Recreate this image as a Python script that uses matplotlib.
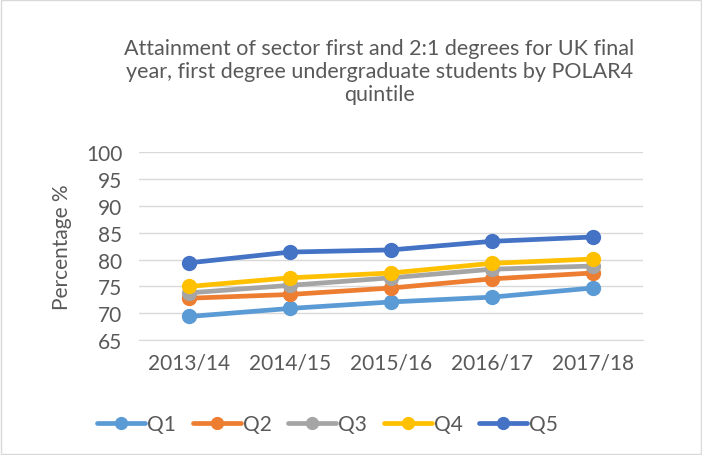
import matplotlib.pyplot as plt
from matplotlib.patches import Rectangle

years = ['2013/14', '2014/15', '2015/16', '2016/17', '2017/18']
q1 = [69.4, 70.9, 72.1, 73.0, 74.7]
q2 = [72.8, 73.5, 74.7, 76.4, 77.5]
q3 = [73.8, 75.2, 76.6, 78.2, 78.8]
q4 = [75.0, 76.6, 77.5, 79.3, 80.1]
q5 = [79.4, 81.4, 81.8, 83.4, 84.2]
series = [('Q1', q1), ('Q2', q2), ('Q3', q3), ('Q4', q4), ('Q5', q5)]
colors = ['#5b9bd5', '#ed7d31', '#a5a5a5', '#ffc000', '#4472c4']

txt = '#595959'
plt.rcParams['font.family'] = ['Lato', 'DejaVu Sans']

fig = plt.figure(figsize=(7.02, 4.56), dpi=100)
ax = fig.add_axes([0.198, 0.252, 0.718, 0.412])

x = range(len(years))
for (name, vals), c in zip(series, colors):
    ax.plot(x, vals, color=c, lw=3.4, marker='o', ms=10, label=name,
            solid_capstyle='round')

ax.set_xlim(-0.5, len(years) - 0.5)
ax.set_ylim(65, 100)
ax.set_yticks(range(65, 101, 5))
ax.set_xticks(list(x))
ax.set_xticklabels(years)
ax.grid(axis='y', color='#d9d9d9', lw=1)
ax.set_axisbelow(True)
for s in ['top', 'right', 'left']:
    ax.spines[s].set_visible(False)
ax.spines['bottom'].set_color('#d9d9d9')
ax.tick_params(length=0, labelsize=15, colors=txt, pad=9)
ax.tick_params(axis='y', pad=12)
ax.set_ylabel('Percentage %', fontsize=15, color=txt, labelpad=10)

fig.text(0.54, 0.842, 'Attainment of sector first and 2:1 degrees for UK final\n'
         'year, first degree undergraduate students by POLAR4\nquintile',
         ha='center', va='center', fontsize=15.5, color=txt, linespacing=1.2)

fig.legend(loc='center', bbox_to_anchor=(0.467, 0.068), ncol=5, frameon=False,
           fontsize=15, labelcolor=txt, handlelength=2.3, handletextpad=0.1,
           columnspacing=0.8, markerscale=0.85)

fig.patches.append(Rectangle((0.002, 0.002), 0.996, 0.996, transform=fig.transFigure,
                             fill=False, edgecolor='#d9d9d9', lw=1))

fig.savefig('out.png', dpi=100)
